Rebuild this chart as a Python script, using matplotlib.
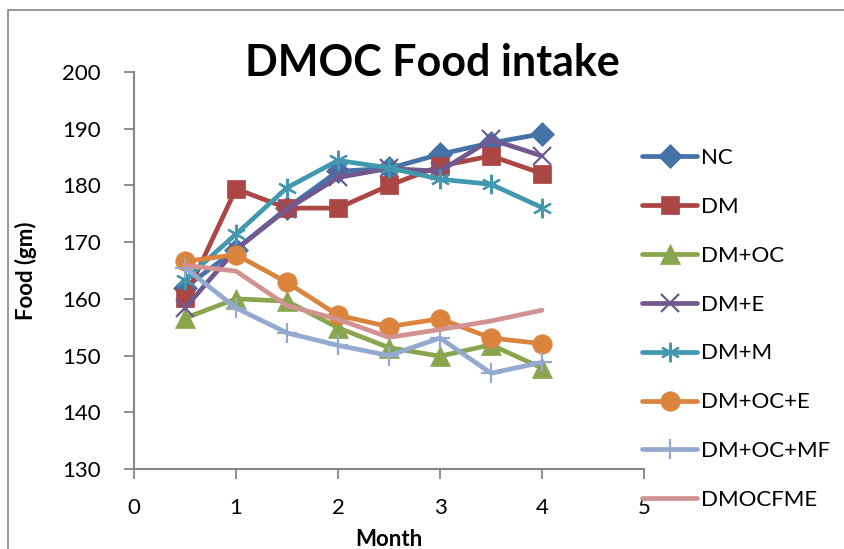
import matplotlib.pyplot as plt
from matplotlib.patches import Rectangle

# Food intake per group, readings every half month
months    = [0.5, 1, 1.5, 2, 2.5, 3, 3.5, 4]
nc        = [162.0, 168.7, 176.0, 182.5, 183.0, 185.5, 187.5, 189.1]
dm        = [160.2, 179.4, 176.0, 176.0, 180.0, 183.4, 185.2, 182.1]
dm_oc     = [156.6, 160.0, 159.6, 154.9, 151.4, 149.9, 151.9, 147.8]
dm_e      = [158.4, 168.7, 175.8, 181.4, 183.0, 182.5, 188.1, 185.2]
dm_m      = [163.4, 171.4, 179.6, 184.4, 183.1, 181.1, 180.2, 176.1]
dm_oc_e   = [166.6, 167.8, 162.9, 157.1, 155.1, 156.5, 153.1, 152.1]
dm_oc_mf  = [165.5, 158.4, 154.0, 151.8, 150.0, 153.1, 146.9, 148.8]
dmocfme   = [165.9, 164.9, 158.8, 156.4, 153.2, 154.6, 156.1, 158.0]

labels  = ["NC", "DM", "DM+OC", "DM+E", "DM+M", "DM+OC+E", "DM+OC+MF", "DMOCFME"]
series  = [nc, dm, dm_oc, dm_e, dm_m, dm_oc_e, dm_oc_mf, dmocfme]
colors  = ["#4572A7", "#AA4643", "#89A54E", "#71588F", "#4198AF", "#DB843D", "#93A9CF", "#D19392"]
markers = ["D", "s", "^", "x", (6, 2, 0), "o", "+", None]
msizes  = [12, 13, 14, 13, 14, 14, 14, 0]

plt.rcParams["font.family"] = ["Lato", "DejaVu Sans"]

fig = plt.figure(figsize=(8.44, 5.49), dpi=100)
ax  = fig.add_axes([134/844, 1 - 469/549, 510/844, 397/549])

for ys, lab, col, mk, ms in zip(series, labels, colors, markers, msizes):
    ax.plot(months, ys, color=col, lw=3.4, marker=mk, markersize=ms,
            markeredgewidth=1.6 if mk in ("x", "+", (6, 2, 0)) else 0.5,
            markeredgecolor=col, label=lab, solid_capstyle="round")

# Ejes
ax.set_xlim(0, 5)
ax.set_ylim(130, 200)
ax.set_xticks(range(0, 6))
ax.set_yticks(range(130, 201, 10))
ax.tick_params(labelsize=16, length=7, width=1.3, color="#868686")
ax.tick_params(axis="y", pad=17)
ax.tick_params(axis="x", pad=14)
for s in ["top", "right"]:
    ax.spines[s].set_visible(False)
for s in ["left", "bottom"]:
    ax.spines[s].set_color("#868686")
    ax.spines[s].set_linewidth(1.5)

ax.set_xlabel("Month", fontsize=16, fontweight="bold")
ax.xaxis.set_label_coords(0.5, -0.15)
ax.set_ylabel("Food (gm)", fontsize=16, fontweight="bold")
ax.yaxis.set_label_coords(-0.19, 0.5)
fig.text(432/844, 1 - 63/549, "DMOC Food intake", ha="center", va="center",
         fontsize=31, fontweight="bold")

fig.legend(loc="upper left", bbox_to_anchor=(633/844, 1 - 139/549), frameon=False,
           fontsize=16, handlelength=2.5, handletextpad=0.15, labelspacing=1.3,
           borderaxespad=0)

# Marco del gráfico
fig.patches.append(Rectangle((8/844, -0.1), 1.2, 1 - 10/549 + 0.1, transform=fig.transFigure,
                             fill=False, edgecolor="#868686", lw=1.2))

plt.savefig("out.png", dpi=100)
plt.close()
